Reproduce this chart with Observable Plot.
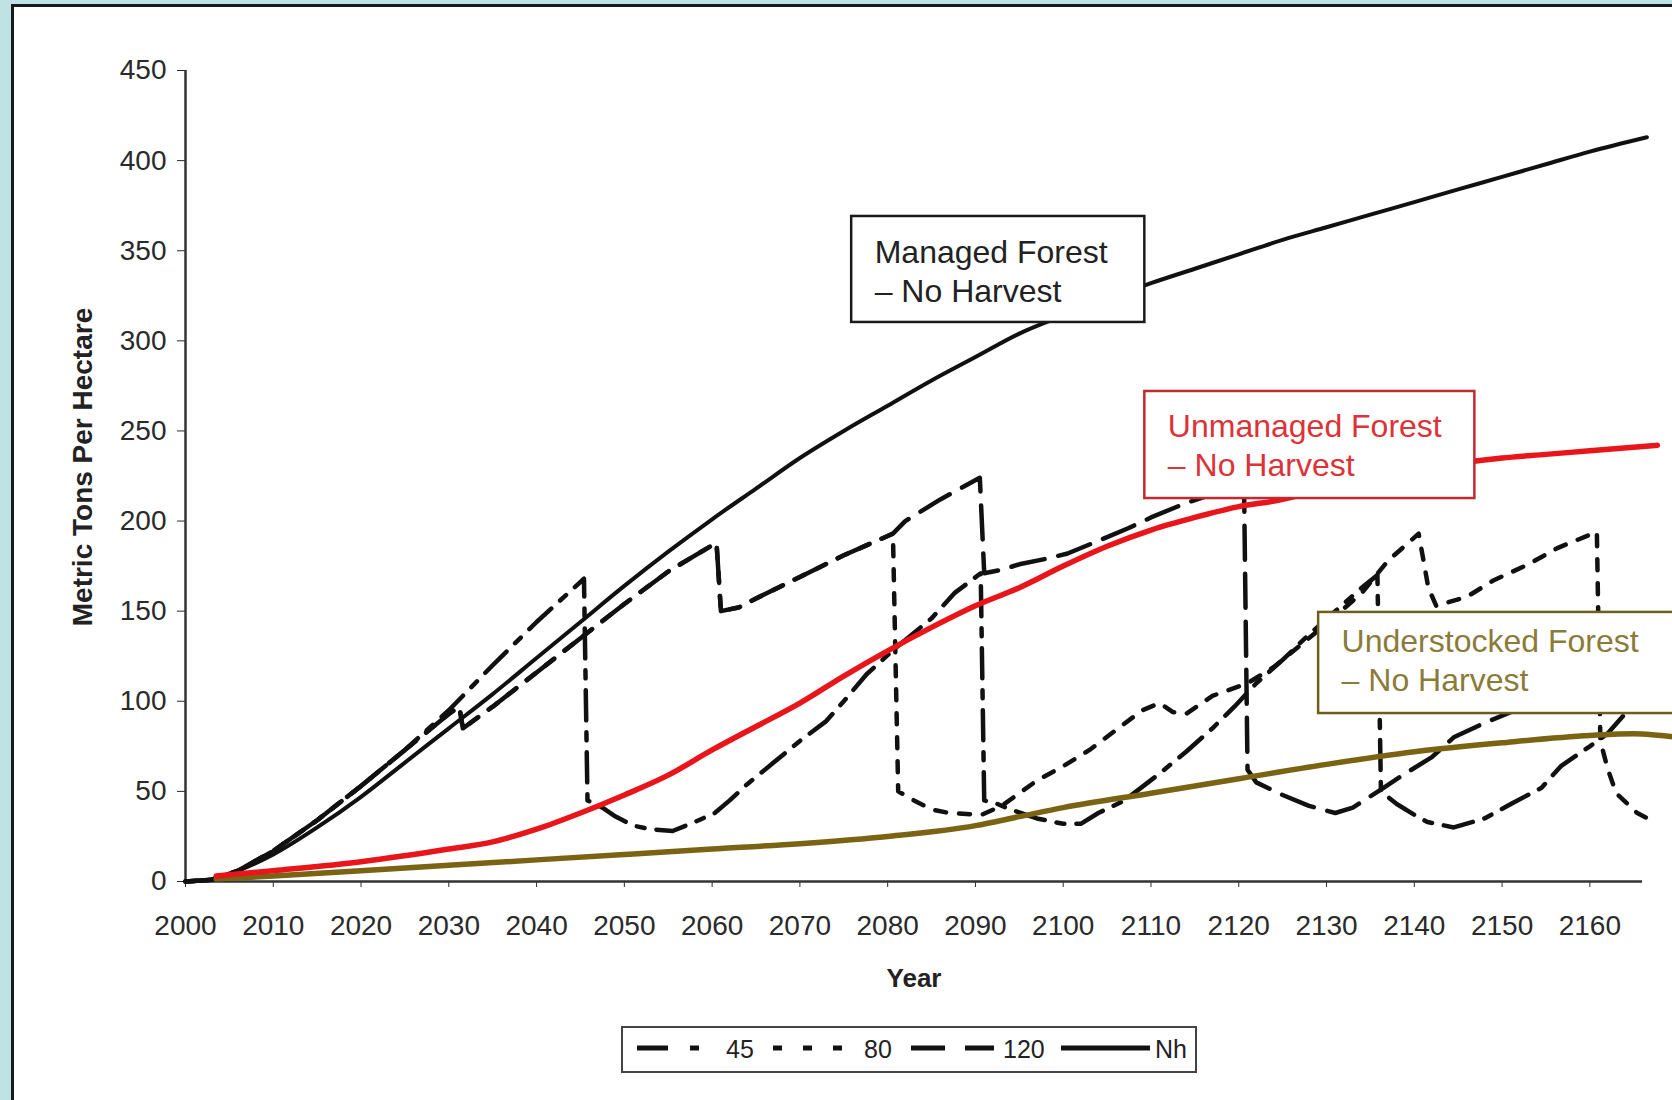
<!DOCTYPE html>
<html><head><meta charset="utf-8">
<script src="https://cdn.jsdelivr.net/npm/d3@7"></script>
<script src="https://cdn.jsdelivr.net/npm/@observablehq/plot@0.6"></script>
<style>
html,body{margin:0;padding:0;width:1672px;height:1100px;overflow:hidden;background:#bfe3e5;font-family:"Liberation Sans",Arial,sans-serif;}
#panel{position:absolute;left:11px;top:4px;width:1700px;height:1200px;background:#fff;border:3px solid #1a1a1a;box-sizing:border-box;}
#chart{position:absolute;left:0;top:0;}
#legend{position:absolute;left:621px;top:1026px;width:576px;height:47px;box-sizing:border-box;border:2px solid #444;background:#fff;}
</style></head><body>
<div id="panel"></div>
<div id="chart"></div>
<div id="legend"></div>
<script>
// ---- axis ticks ----
const xTicks = [2000, 2010, 2020, 2030, 2040, 2050, 2060, 2070, 2080, 2090, 2100, 2110, 2120, 2130, 2140, 2150, 2160];
const yTicks = [0, 50, 100, 150, 200, 250, 300, 350, 400, 450];

// ---- Nh: managed forest, no harvest ----
const nhYear  = [2000, 2003, 2006, 2010, 2015, 2020, 2025, 2030, 2035, 2040, 2045, 2050, 2055, 2060, 2065, 2070, 2075, 2080, 2085, 2090, 2095, 2100, 2105, 2110, 2115, 2120, 2125, 2130, 2135, 2140, 2145, 2150, 2155, 2160, 2166.5];
const nhValue = [0, 1, 6, 15, 30, 47, 66, 85, 104, 124, 144, 164, 183, 201, 218, 235, 250, 264, 278, 291, 304, 314, 323, 332, 340, 348, 356, 363, 370, 377, 384, 391, 398, 405, 413];

// ---- 45-year rotation ----
const r45Year  = [2000, 2003, 2006, 2010, 2015, 2020, 2025, 2030, 2035, 2040, 2045.4, 2045.8, 2047.5, 2049, 2051, 2053, 2055.5, 2058, 2060.3, 2062, 2064, 2067, 2070, 2073, 2075, 2077.6, 2081, 2085, 2087.6, 2090.6, 2091, 2092.5, 2094, 2097, 2100, 2102, 2104, 2107, 2111, 2114, 2117, 2119.5, 2122, 2125, 2128, 2131, 2134, 2135.8, 2136.2, 2138, 2140, 2141.5, 2144.5, 2148, 2151, 2154.5, 2156.7, 2160, 2162, 2164, 2167];
const r45Value = [0, 1, 6, 17, 34, 53, 73, 95, 120, 144, 168, 45, 41, 36, 31, 29, 28, 33, 38, 45, 54, 66, 78, 89, 100, 115, 130, 146, 160, 171, 45, 43, 40, 35, 32, 32, 38, 45, 60, 72, 85, 97, 110, 123, 137, 150, 163, 170, 50, 43, 37, 33, 30, 35, 43, 52, 64, 75, 82, 93, 104];

// ---- 80-year rotation ----
const r80Year  = [2000, 2003, 2006, 2010, 2015, 2020, 2025, 2030, 2031.2, 2031.6, 2035, 2040, 2045, 2050, 2055, 2060.5, 2061, 2063, 2065, 2070, 2075, 2080.6, 2081.2, 2083, 2085, 2087, 2090.7, 2093, 2097, 2100, 2103, 2106, 2109, 2111, 2112.5, 2114, 2117, 2121, 2124, 2127, 2130, 2134, 2137, 2140.5, 2141.6, 2142.5, 2146, 2149, 2153, 2156.3, 2160.8, 2161.2, 2162, 2163, 2165.4, 2167];
const r80Value = [0, 1, 6, 17, 34, 53, 73, 93, 97, 85, 97, 116, 135, 154, 172, 188, 150, 152, 157, 169, 181, 193, 50, 45, 40, 38, 37, 42, 56, 64, 73, 84, 95, 99, 94, 93, 103, 110, 119, 131, 143, 160, 178, 193, 163, 153, 158, 167, 176, 185, 194, 78, 63, 49, 38, 34];

// ---- 120-year rotation ----
const r120Year  = [2000, 2003, 2006, 2010, 2015, 2020, 2025, 2030, 2031.2, 2031.6, 2035, 2040, 2045, 2050, 2055, 2060.5, 2061, 2063, 2065, 2070, 2075, 2080.6, 2082, 2086, 2090.5, 2091, 2093, 2095, 2098, 2100.5, 2104, 2107.4, 2110, 2114, 2117, 2120.6, 2121, 2122, 2125, 2128, 2131, 2133, 2136.5, 2139, 2142, 2144.5, 2148, 2152, 2158, 2167];
const r120Value = [0, 1, 6, 17, 34, 53, 73, 93, 97, 85, 97, 116, 135, 154, 172, 188, 150, 152, 157, 169, 181, 193, 200, 212, 224, 171, 173, 176, 179, 182, 189, 196, 202, 210, 215, 220, 62, 55, 48, 42, 38, 41, 52, 60, 69, 80, 88, 96, 108, 124];

// ---- Unmanaged forest, no harvest ----
const unYear  = [2003.5, 2010, 2020, 2030, 2035, 2040, 2045, 2050, 2055, 2060, 2065, 2070, 2075, 2080, 2085, 2090, 2095, 2100, 2105, 2110, 2115, 2120, 2125, 2130, 2135, 2140, 2145, 2150, 2155, 2160, 2167.7];
const unValue = [3, 6, 11, 18, 22, 29, 38, 48, 59, 73, 86, 99, 114, 128, 141, 153, 163, 175, 186, 195, 202, 208, 212, 219, 224, 228, 232, 235, 237, 239, 242];

// ---- Understocked forest, no harvest ----
const usYear  = [2003.5, 2010, 2020, 2030, 2040, 2050, 2060, 2070, 2080, 2090, 2095, 2100, 2110, 2120, 2130, 2140, 2150, 2160, 2165, 2170];
const usValue = [1.5, 3, 6, 9, 12, 15, 18, 21, 25, 31, 36, 41, 49, 57, 65, 72, 77, 81, 82, 80];

// ---- annotation boxes ----
const annText = ["Managed Forest\n– No Harvest", "Unmanaged Forest\n– No Harvest", "Understocked Forest\n– No Harvest"];
const annX1 = [2075.9, 2109.3, 2129.1];
const annX2 = [2109.3, 2146.9, 2173];
const annY1 = [310.2, 212.5, 93.2];
const annY2 = [369.0, 271.9, 149.3];
const annStroke = ["#1a1a1a", "#c22a30", "#6f5f1c"];
const annFill = ["#222222", "#dc3238", "#8b7b3a"];
const annDy = [19, 18, 12];

// ---- legend ----
const legendLabels = ["45", "80", "120", "Nh"];

const rows = (xs, ys) => xs.map((x, i) => ({x, y: ys[i]}));
const font = "'Liberation Sans', Arial, sans-serif";

const annMarks = annText.flatMap((t, i) => {
  const d = [{x1: annX1[i], x2: annX2[i], y1: annY1[i], y2: annY2[i], t}];
  return [
    Plot.rect(d, {x1: "x1", x2: "x2", y1: "y1", y2: "y2", fill: "white", stroke: annStroke[i], strokeWidth: 2.5}),
    Plot.text(d, {x: "x1", y: "y2", text: "t", textAnchor: "start", lineAnchor: "top", lineHeight: 1.22,
      dx: 23, dy: annDy[i], fontSize: 32, fill: annFill[i], fontFamily: font})
  ];
});

const chart = Plot.plot({
  width: 1672,
  height: 1000,
  marginLeft: 185,
  marginRight: 30,
  marginTop: 70,
  marginBottom: 119,
  style: {background: "transparent", fontFamily: font, fontSize: "28px", color: "#2a2a2a", overflow: "visible"},
  x: {domain: [2000, 2166], ticks: xTicks, tickFormat: d => String(d), tickSize: 6, tickPadding: 28, label: null},
  y: {domain: [0, 450], ticks: yTicks, tickFormat: d => String(d), tickSize: 8, tickPadding: 11, label: null},
  marks: [
    Plot.ruleY([0], {stroke: "#333", strokeWidth: 2.5}),
    Plot.ruleX([2000], {y1: 0, y2: 450, stroke: "#333", strokeWidth: 2.5}),
    Plot.line(rows(nhYear, nhValue), {x: "x", y: "y", stroke: "#111", strokeWidth: 4, curve: "monotone-x"}),
    Plot.line(rows(r120Year, r120Value), {x: "x", y: "y", stroke: "#111", strokeWidth: 4.5, strokeDasharray: "34,14"}),
    Plot.line(rows(r80Year, r80Value), {x: "x", y: "y", stroke: "#111", strokeWidth: 4.5, strokeDasharray: "11,13"}),
    Plot.line(rows(r45Year, r45Value), {x: "x", y: "y", stroke: "#111", strokeWidth: 4.5, strokeDasharray: "30,12,8,12"}),
    Plot.line(rows(usYear, usValue), {x: "x", y: "y", stroke: "#7a6312", strokeWidth: 5.5, strokeLinecap: "round", curve: "monotone-x"}),
    Plot.line(rows(unYear, unValue), {x: "x", y: "y", stroke: "#e8151b", strokeWidth: 5.5, strokeLinecap: "round", curve: "monotone-x"}),
    ...annMarks,
    Plot.text(["Metric Tons Per Hectare"], {text: d => d, frameAnchor: "left", textAnchor: "middle", dx: -102, dy: -9, rotate: -90,
      fontWeight: "bold", fontSize: 28, fill: "#222", fontFamily: font}),
    Plot.text(["Year"], {text: d => d, frameAnchor: "bottom", dy: 105, fontWeight: "bold", fontSize: 26, fill: "#222", fontFamily: font})
  ]
});
document.getElementById("chart").appendChild(chart);

// legend below the plot
const lg = d3.select("#legend").append("svg").attr("width", 572).attr("height", 43)
  .style("font-family", font).style("font-size", "25px");
const samples = [
  {x1: 14, x2: 76, dash: "31,22,9,40", tx: 103},
  {x1: 150, x2: 219, dash: "9,21", tx: 241},
  {x1: 288, x2: 371, dash: "34,20", tx: 380},
  {x1: 438, x2: 527, dash: null, tx: 532}
];
samples.forEach((s, i) => {
  const l = lg.append("line").attr("x1", s.x1).attr("x2", s.x2).attr("y1", 20).attr("y2", 20)
    .attr("stroke", "#111").attr("stroke-width", 5);
  if (s.dash) l.attr("stroke-dasharray", s.dash);
  lg.append("text").attr("x", s.tx).attr("y", 30).attr("fill", "#222").text(legendLabels[i]);
});
</script></body></html>
